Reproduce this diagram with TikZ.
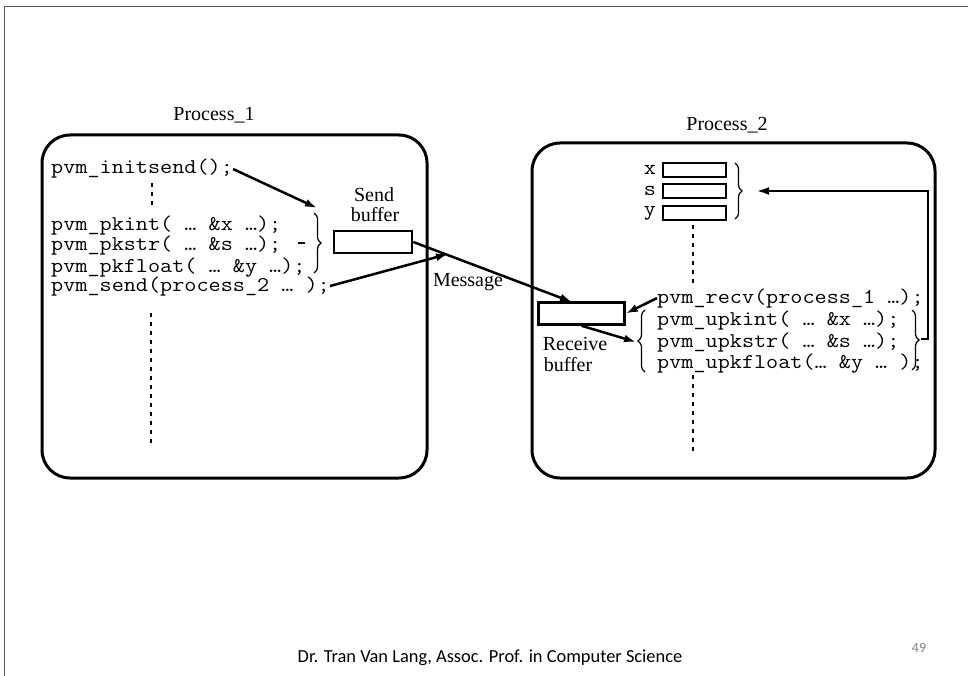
\documentclass[tikz,border=0pt]{standalone}
\usepackage{fontspec}
\setmainfont{Liberation Serif}
\setmonofont[FakeStretch=1.12]{Latin Modern Mono}
\newfontfamily\footfont{Carlito}
\usetikzlibrary{arrows.meta,decorations.pathreplacing}
\begin{document}
\begin{tikzpicture}[x=1pt,y=-1pt,
  code/.style={font=\ttfamily\fontsize{21}{20}\selectfont, anchor=base west, inner sep=0pt},
  codec/.style={font=\ttfamily\fontsize{21}{20}\selectfont, anchor=base, inner sep=0pt},
  lbl/.style={font=\fontsize{20}{20}\selectfont, inner sep=0pt},
  proc/.style={draw, line width=3pt, rounded corners=28pt},
  buf/.style={draw, line width=2.5pt, inner sep=0pt},
  arr/.style={line width=2.5pt, -{Latex[length=12pt,width=8pt]}},
  dotl/.style={line width=2pt, dash pattern=on 4pt off 5pt},
  brc/.style={decorate, decoration={brace, amplitude=7pt}, line width=1.2pt}
]
\useasboundingbox (0,0) rectangle (968,676);
\fill[white] (0,0) rectangle (968,676);
\draw[gray!70!black, line width=1pt] (4,676) -- (4,7) -- (968,7);

% process boxes
\node[proc, minimum width=385pt, minimum height=343pt] (p1) at (234.5,306.5) {};
\node[proc, minimum width=403pt, minimum height=335pt] (p2) at (733.5,310.5) {};
\node[lbl] (p1l) at (214,115) {Process\_1};
\node[lbl] (p2l) at (727,125) {Process\_2};

% process 1 code
\node[code] (i1) at (51,174) {pvm\_initsend();};
\node[code] (i2) at (51,231) {pvm\_pkint( … \&x …);};
\node[code] (i3) at (51,251) {pvm\_pkstr( … \&s …);};
\node[code] (i4) at (51,272) {pvm\_pkfloat( … \&y …);};
\node[code] (i5) at (51,291) {pvm\_send(process\_2 … );};
\draw[line width=1.5pt] (298,243) -- (305,243);
\draw[brc] (314,213) -- (314,273);
\draw[dotl] (152,183) -- (152,208);
\draw[dotl] (151,313) -- (151,443);

% send buffer
\node[buf, minimum width=78pt, minimum height=22pt] (sb) at (373,242) {};
\node[lbl] (sl1) at (374,195) {Send};
\node[lbl] (sl2) at (375,215) {buffer};
\node[lbl] (msg) at (468,282) {Message};

% receive buffer
\node[buf, minimum width=86pt, minimum height=22pt] (rb) at (581.5,313.5) {};
\node[lbl] (rl1) at (575,344) {Receive};
\node[lbl] (rl2) at (568,365) {buffer};

% x s y variables
\node[buf, minimum width=63pt, minimum height=14pt] (vx) at (694.5,170) {};
\node[buf, minimum width=63pt, minimum height=14pt] (vs) at (694.5,191) {};
\node[buf, minimum width=63pt, minimum height=14pt] (vy) at (694.5,213) {};
\node[codec] (lx) at (650,175) {x};
\node[codec] (ls) at (650,196) {s};
\node[codec] (ly) at (650,215) {y};
\draw[brc] (735,163) -- (735,219);

% process 2 code
\node[code] (r1) at (657,303) {pvm\_recv(process\_1 …);};
\node[code] (r2) at (657,325) {pvm\_upkint( … \&x …);};
\node[code] (r3) at (657,347) {pvm\_upkstr( … \&s …);};
\node[code] (r4) at (657,368) {pvm\_upkfloat(… \&y … );};
\draw[brc] (645,372) -- (645,310);
\draw[brc] (912,310) -- (912,370);
\draw[dotl, line width=2.5pt] (693,225) -- (693,288);
\draw[dotl, line width=2.5pt] (693,375) -- (693,452);

% coordinates
\coordinate (bt) at (317,208);
\coordinate (mm) at (448,254);
\coordinate (rt) at (572,302);
\coordinate (lbt) at (636,342);
\coordinate (rbt) at (921,339);
\coordinate (c1) at (928,339);
\coordinate (c2) at (928,191);
\coordinate (vbt) at (757,191);

% arrows
\draw[arr] (i1.east) -- (bt);
\draw[arr] (i5.east) -- (mm);
\draw[arr] (sb.east) -- (rt);
\draw[arr] (r1.west) -- (rb.east);
\draw[arr] (rb.south) -- (lbt);
\draw[arr, line width=2pt] (rbt) -- (c1) -- (c2) -- (vbt);

% footer
\node[font=\footfont\fontsize{18.4}{18}\selectfont] (ft) at (490,658) {Dr. Tran Van Lang, Assoc. Prof. in Computer Science};
\node[font=\footfont\fontsize{14}{14}\selectfont, text=gray] (pg) at (919,648) {49};
\end{tikzpicture}
\end{document}
